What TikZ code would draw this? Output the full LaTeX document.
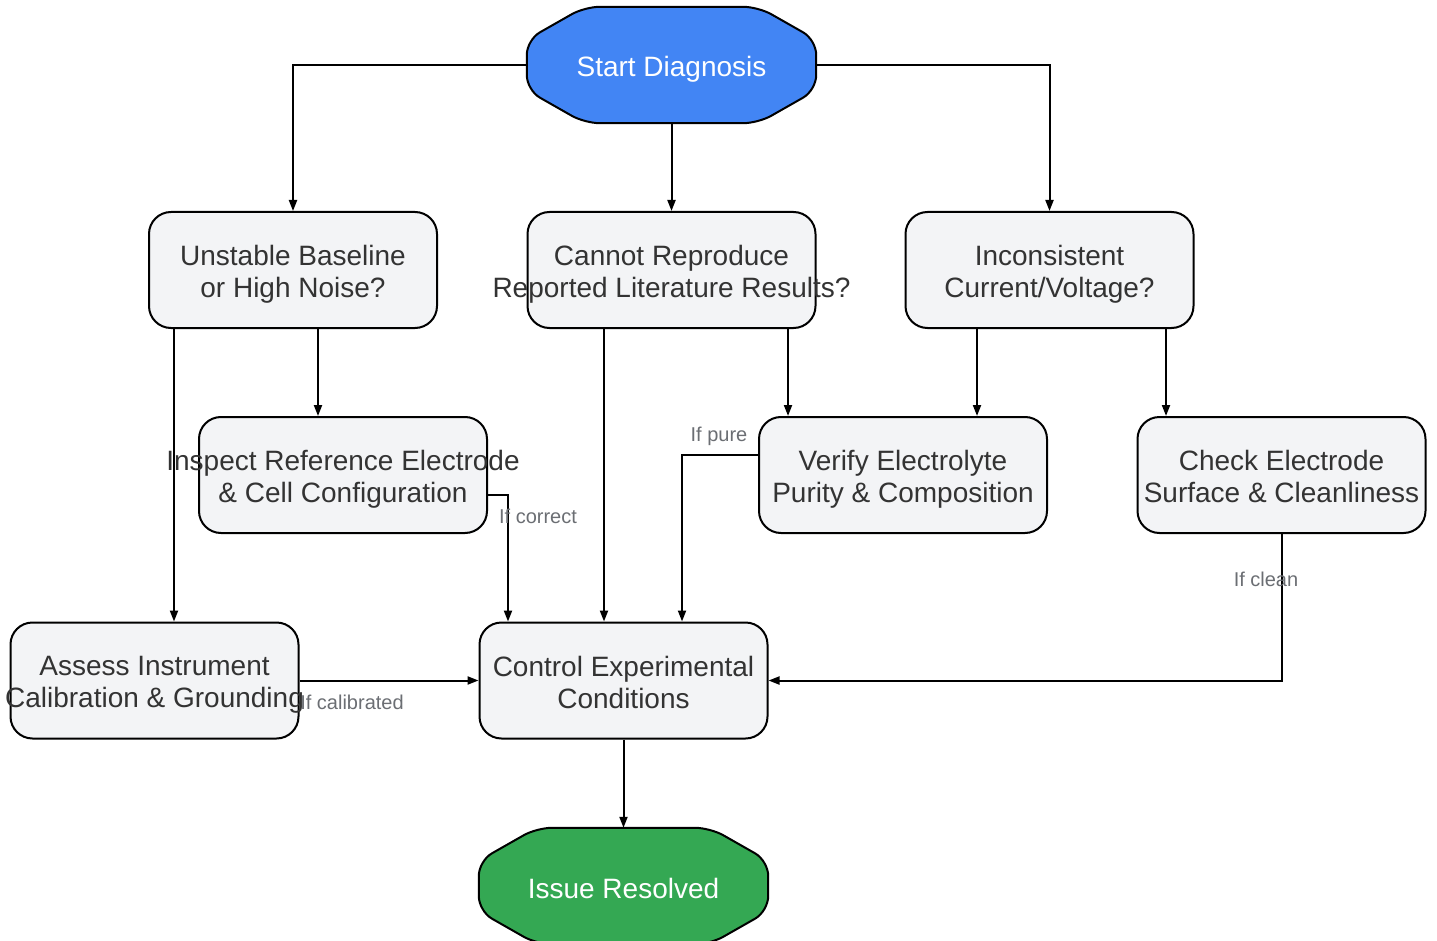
\documentclass[tikz,border=0pt]{standalone}
\usepackage{fontspec}
\setmainfont{Liberation Sans}
\usetikzlibrary{arrows.meta}

\definecolor{boxfill}{HTML}{F3F4F6}
\definecolor{boxtext}{HTML}{333333}
\definecolor{lblgray}{HTML}{6B6E73}
\definecolor{startblue}{HTML}{4285F4}
\definecolor{donegreen}{HTML}{34A853}

\def\octagon#1{([xshift=58pt]#1.north west) -- ([xshift=-58pt]#1.north east)
  -- ([yshift=-33pt]#1.north east) -- ([yshift=33pt]#1.south east)
  -- ([xshift=-58pt]#1.south east) -- ([xshift=58pt]#1.south west)
  -- ([yshift=33pt]#1.south west) -- ([yshift=-33pt]#1.north west) -- cycle}

\begin{document}
\begin{tikzpicture}[x=1pt, y=-1pt,
    box/.style={draw, line width=2pt, fill=boxfill, rounded corners=22pt,
      minimum width=288pt, minimum height=116pt, inner sep=0pt},
    txt/.style={text=boxtext, align=center, font=\fontsize{28}{32}\selectfont, inner sep=0pt,
      yshift=-6.5pt, execute at begin node=\strut, execute at end node=\strut},
    term/.style={minimum width=289pt, minimum height=116pt, inner sep=0pt},
    termtxt/.style={text=white, font=\fontsize{28}{32}\selectfont, inner sep=0pt,
      yshift=-5.6pt, execute at begin node=\strut},
    lbl/.style={text=lblgray, font=\fontsize{20}{24}\selectfont, inner sep=0pt, anchor=base},
    arr/.style={line width=2pt, -{Triangle[length=11pt,width=8pt]}}]
    \useasboundingbox (0,0) rectangle (1437,941);

    % terminals
    \node[term] (start) at (671.5,65) {};
    \node[term] (issue) at (623.5,886) {};
    \begin{scope}[line width=2pt, rounded corners=15pt]
      \draw[fill=startblue] \octagon{start};
      \draw[fill=donegreen] \octagon{issue};
    \end{scope}
    \node[termtxt] at (start) {Start Diagnosis};
    \node[termtxt] at (issue) {Issue Resolved};

    % questions
    \node[box, label={[txt]center:{Unstable Baseline\\or High Noise?}}] (unstable) at (293,270) {};
    \node[box, label={[txt]center:{Cannot Reproduce\\Reported Literature Results?}}] (cannot) at (671.5,270) {};
    \node[box, label={[txt]center:{Inconsistent\\Current/Voltage?}}] (incons) at (1049.5,270) {};

    % checks
    \node[box, label={[txt]center:{Inspect Reference Electrode\\\& Cell Configuration}}] (inspect) at (343,475) {};
    \node[box, label={[txt]center:{Verify Electrolyte\\Purity \& Composition}}] (verify) at (903,475) {};
    \node[box, label={[txt]center:{Check Electrode\\Surface \& Cleanliness}}] (check) at (1281.5,475) {};
    \node[box, label={[txt]center:{Assess Instrument\\Calibration \& Grounding}}] (assess) at (154.5,680.5) {};
    \node[box, label={[txt]center:{Control Experimental\\Conditions}}] (control) at (623.5,680.5) {};

    % connectors
    \draw[arr] (start.west) -| (unstable.north);
    \draw[arr] (start.south) -- (cannot.north);
    \draw[arr] (start.east) -| (incons.north);
    \draw[arr] ([xshift=-25pt]inspect.north |- unstable.south) -- ([xshift=-25pt]inspect.north);
    \draw[arr] ([xshift=-119pt]unstable.south) -- ([xshift=-119pt]unstable.south |- assess.north);
    \draw[arr] ([xshift=-19.5pt]control.north |- cannot.south) -- ([xshift=-19.5pt]control.north);
    \draw[arr] ([xshift=-115pt]verify.north |- cannot.south) -- ([xshift=-115pt]verify.north);
    \draw[arr] ([xshift=74pt]verify.north |- incons.south) -- ([xshift=74pt]verify.north);
    \draw[arr] ([xshift=-115.5pt]check.north |- incons.south) -- ([xshift=-115.5pt]check.north);
    \draw[arr] ([yshift=-20pt]inspect.east) -| ([xshift=-115.5pt]control.north);
    \draw[arr] ([yshift=20pt]verify.west) -| ([xshift=58.5pt]control.north);
    \draw[arr] (check.south) |- (control.east);
    \draw[arr] (assess.east) -- (control.west);
    \draw[arr] (control.south) -- (issue.north);

    % edge labels
    \node[lbl] (lcorrect) at (538,523) {If correct};
    \node[lbl] (lpure) at (719,441) {If pure};
    \node[lbl] (lclean) at (1266,586) {If clean};
    \node[lbl] (lcalib) at (352,709) {If calibrated};

\end{tikzpicture}
\end{document}
